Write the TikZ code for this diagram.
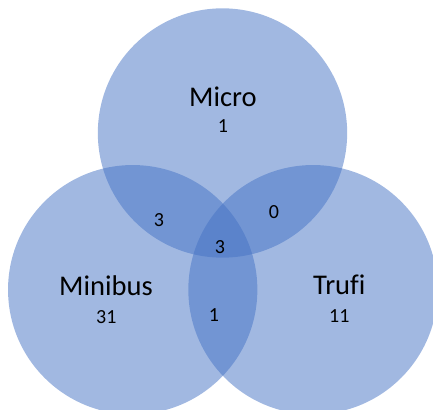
\documentclass[tikz,border=0pt]{standalone}
\usepackage{fontspec}
\setmainfont{Carlito}[Ligatures=NoCommon]
\usepackage{tikz}
\usetikzlibrary{positioning}
\definecolor{SetBlue}{HTML}{4472C4}
\tikzset{setcircle/.style={circle,fill=SetBlue,fill opacity=.5,minimum size=187pt,inner sep=0pt},setname/.style={font=\fontsize{21.4}{24}\selectfont,anchor=base,inner sep=0pt},setcount/.style={font=\fontsize{15}{18}\selectfont,anchor=base,inner sep=0pt}}

\begin{document}
\begin{tikzpicture}[x=.75pt,y=-.75pt]
      \useasboundingbox (0,0) rectangle (433,410);\clip (0,0) rectangle (433,410);
      \node[setcircle](micro) at (222.5,133){};
      \node[setcircle](minibus) at (132.7,289.7){};
      \node[setcircle](trufi) at (313,289.7){};
      \node[setname](microlbl) at (223,107){Micro};
      \node[setcount](micron) at (223,132.7){1};
      \node[setname](minibuslbl) at (106,296){Minibus};
      \node[setcount](minibusn) at (106.3,323.3){31};
      \node[setname](trufilbl) at (339.3,295){Truf{}i};
      \node[setcount](trufin) at (339.3,322.7){11};
      \node[setcount](micromini) at (159,226.7){3};
      \node[setcount](microtrufi) at (274,219){0};
      \node[setcount](all) at (220,253.3){3};
      \node[setcount](minitrufi) at (214,321.7){1};
    \end{tikzpicture}
\end{document}
